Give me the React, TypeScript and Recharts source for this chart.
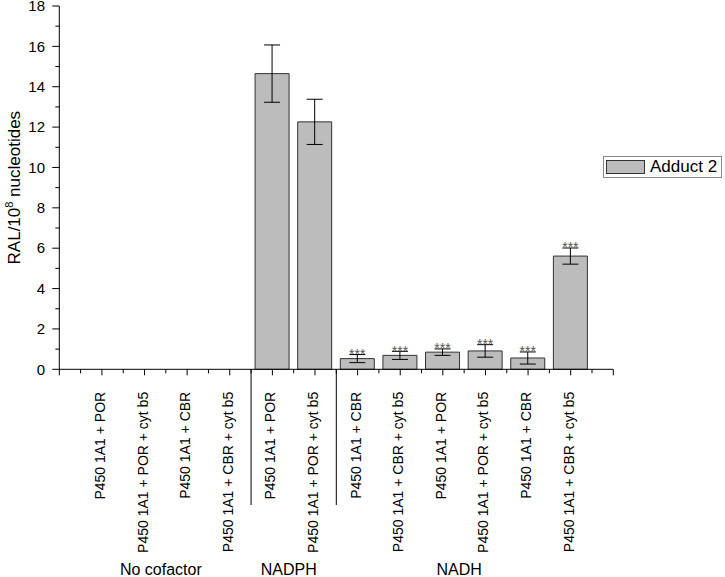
import React from 'react';
import { BarChart, Bar, XAxis, YAxis, ErrorBar, LabelList, Legend } from 'recharts';

const categories = [
  'P450 1A1 + POR',
  'P450 1A1 + POR + cyt b5',
  'P450 1A1 + CBR',
  'P450 1A1 + CBR + cyt b5',
  'P450 1A1 + POR',
  'P450 1A1 + POR + cyt b5',
  'P450 1A1 + CBR',
  'P450 1A1 + CBR + cyt b5',
  'P450 1A1 + POR',
  'P450 1A1 + POR + cyt b5',
  'P450 1A1 + CBR',
  'P450 1A1 + CBR + cyt b5',
];
const values = [0, 0, 0, 0, 14.65, 12.26, 0.53, 0.69, 0.85, 0.91, 0.56, 5.61];
const errors = [0, 0, 0, 0, 1.42, 1.12, 0.2, 0.2, 0.16, 0.31, 0.3, 0.4];
const stars = ['', '', '', '', '', '', '***', '***', '***', '***', '***', '***'];
const groups = [
  { name: 'No cofactor', from: 1, to: 4 },
  { name: 'NADPH', from: 5, to: 6 },
  { name: 'NADH', from: 7, to: 12 },
];
const separators = [4.5, 6.5];
const yTicks = [0, 1, 2, 3, 4, 5, 6, 7, 8, 9, 10, 11, 12, 13, 14, 15, 16, 17, 18];
const xTicks = [0, 0.5, 1, 1.5, 2, 2.5, 3, 3.5, 4, 4.5, 5, 5.5, 6, 6.5, 7, 7.5, 8, 8.5, 9, 9.5, 10, 10.5, 11, 11.5, 12, 12.5, 13];
const seriesName = 'Adduct 2';

const data = categories.map((c, i) => ({
  x: i + 1,
  label: c,
  value: values[i],
  err: errors[i],
  star: stars[i],
}));

const W = 725;
const H = 577;
const AXIS_X = 59.3;
const TOP = 6;
const AXIS_Y = 369.3;
const RIGHT = 613.3;
const FONT = 'Arial, "Liberation Sans", sans-serif';
const BAR_FILL = '#bcbcbc';

const XTick = (props: any) => {
  const { x, payload } = props;
  const v = payload.value;
  const isInt = Number.isInteger(v);
  const label = isInt && v >= 1 && v <= categories.length ? categories[v - 1] : null;
  const sep = separators.includes(v);
  const grp = groups.find((g) => (g.from + g.to) / 2 === v);
  const ly = AXIS_Y + 22.5;
  return (
    <g>
      <line x1={x} x2={x} y1={AXIS_Y} y2={AXIS_Y + (isInt ? 6 : 4)} stroke="#000" strokeWidth={1} />
      {label && (
        <text x={x} y={ly} transform={`rotate(-90 ${x} ${ly})`} textAnchor="end" dy={3} fontSize={14} fontFamily={FONT} fill="#000">
          {label}
        </text>
      )}
      {sep && <line x1={x} x2={x} y1={AXIS_Y} y2={505} stroke="#000" strokeWidth={1} />}
      {grp && (
        <text x={x - 5} y={575} textAnchor="middle" fontSize={16} fontFamily={FONT} fill="#000">
          {grp.name}
        </text>
      )}
    </g>
  );
};

const YTick = (props: any) => {
  const { y, payload } = props;
  const v = payload.value;
  const major = v % 2 === 0;
  return (
    <g>
      <line x1={AXIS_X} x2={AXIS_X - (major ? 7 : 4)} y1={y} y2={y} stroke="#000" strokeWidth={1} />
      {major && (
        <text x={45} y={y} dy="0.35em" textAnchor="end" fontSize={15} fontFamily={FONT} fill="#000">
          {v}
        </text>
      )}
    </g>
  );
};

const StarLabel = (props: any) => {
  const { x, y, width, value } = props;
  if (!value) return null;
  return (
    <text x={x + width / 2} y={y + 4.5} textAnchor="middle" fontSize={14} fontFamily={FONT} fill="#555">
      {value}
    </text>
  );
};

const LegendBox = () => (
  <div
    style={{
      width: 117,
      height: 20,
      border: '1px solid #8a8a8a',
      background: '#fff',
      display: 'flex',
      alignItems: 'center',
      boxSizing: 'content-box',
    }}
  >
    <div style={{ width: 37, height: 12, marginLeft: 2, background: BAR_FILL, border: '1px solid #333' }} />
    <span style={{ marginLeft: 5, fontSize: 17, fontFamily: FONT, color: '#000', lineHeight: '20px' }}>{seriesName}</span>
  </div>
);

const YLabel = () => {
  const cx = 20;
  const cy = (TOP + AXIS_Y) / 2;
  return (
    <text x={cx} y={cy} transform={`rotate(-90 ${cx} ${cy})`} textAnchor="middle" fontSize={17} fontFamily={FONT} fill="#000">
      RAL/10
      <tspan dy={-7} fontSize={11}>8</tspan>
      <tspan dy={7}> nucleotides</tspan>
    </text>
  );
};

export default function App() {
  return (
    <div style={{ position: 'absolute', left: 0, top: 0, width: W, height: H, background: '#fff' }}>
      <BarChart
        width={W}
        height={H}
        data={data}
        margin={{ top: TOP, right: W - RIGHT, bottom: 0, left: 0 }}
      >
        <XAxis
          type="number"
          dataKey="x"
          domain={[0, 13]}
          ticks={xTicks}
          interval={0}
          allowDecimals
          tickLine={false}
          tickSize={0}
          tickMargin={0}
          axisLine={{ stroke: '#000', strokeWidth: 1 }}
          height={H - AXIS_Y}
          tick={<XTick />}
        />
        <YAxis
          type="number"
          domain={[0, 18]}
          ticks={yTicks}
          interval={0}
          width={AXIS_X}
          tickLine={false}
          axisLine={{ stroke: '#000', strokeWidth: 1 }}
          tick={<YTick />}
          label={<YLabel />}
        />
        <Legend
          layout="horizontal"
          verticalAlign="middle"
          align="center"
          content={<LegendBox />}
          wrapperStyle={{ position: 'absolute', left: 603, top: 156, width: 121, height: 24 }}
        />
        <Bar dataKey="value" stackId="s" name={seriesName} fill={BAR_FILL} stroke="#333" strokeWidth={1} barSize={34} isAnimationActive={false}>
          <ErrorBar dataKey="err" direction="y" width={8} stroke="#000" strokeWidth={1} />
        </Bar>
        <Bar dataKey="err" stackId="s" fill="none" stroke="none" barSize={34} isAnimationActive={false} legendType="none">
          <LabelList dataKey="star" content={<StarLabel />} />
        </Bar>
      </BarChart>
    </div>
  );
}
